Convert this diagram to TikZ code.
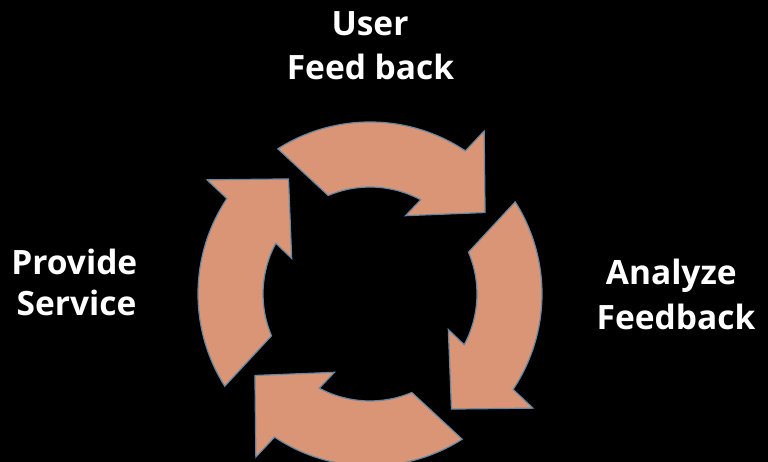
\documentclass[tikz,border=0pt]{standalone}
\usepackage{fontspec}
\setmainfont{Open Sans}
\definecolor{arrowfill}{RGB}{217,149,118}
\definecolor{arrowedge}{RGB}{105,135,160}
\begin{document}
\begin{tikzpicture}[x=1pt,y=1pt,
  cyclearrow/.style={fill=arrowfill, draw=arrowedge, line width=1.2pt, line join=miter},
  lbl/.style={text=white, font=\bfseries\fontsize{33.5}{40}\selectfont, inner sep=0pt, anchor=base}]
\fill[black] (0,0) rectangle (768,462);
\useasboundingbox (0,0) rectangle (768,462);
\coordinate (C) at (370,168);
\foreach \p in {0,-90,-180,-270}{
  \draw[cyclearrow] ([shift={(122.4+\p:172pt)}]C)
    arc[start angle=122.4+\p, end angle=56.3+\p, radius=172pt]
    -- ([shift={(55+\p:199pt)}]C)
    -- ([shift={(35.3+\p:141pt)}]C)
    -- ([shift={(65.6+\p:86pt)}]C)
    -- ([shift={(61.7+\p:107pt)}]C)
    arc[start angle=61.7+\p, end angle=113+\p, radius=107pt]
    -- cycle;
}
\node[lbl] (user) at (370,426) {User};
\node[lbl] (feedback) at (370.5,382.7) {Feed back};
\node[lbl] (provide) at (74.3,187) {Provide};
\node[lbl] (service) at (76.5,146) {Service};
\node[lbl] (analyze) at (671.3,177.7) {Analyze};
\node[lbl] (feedbacktwo) at (676,132) {Feedback};
\end{tikzpicture}
\end{document}
